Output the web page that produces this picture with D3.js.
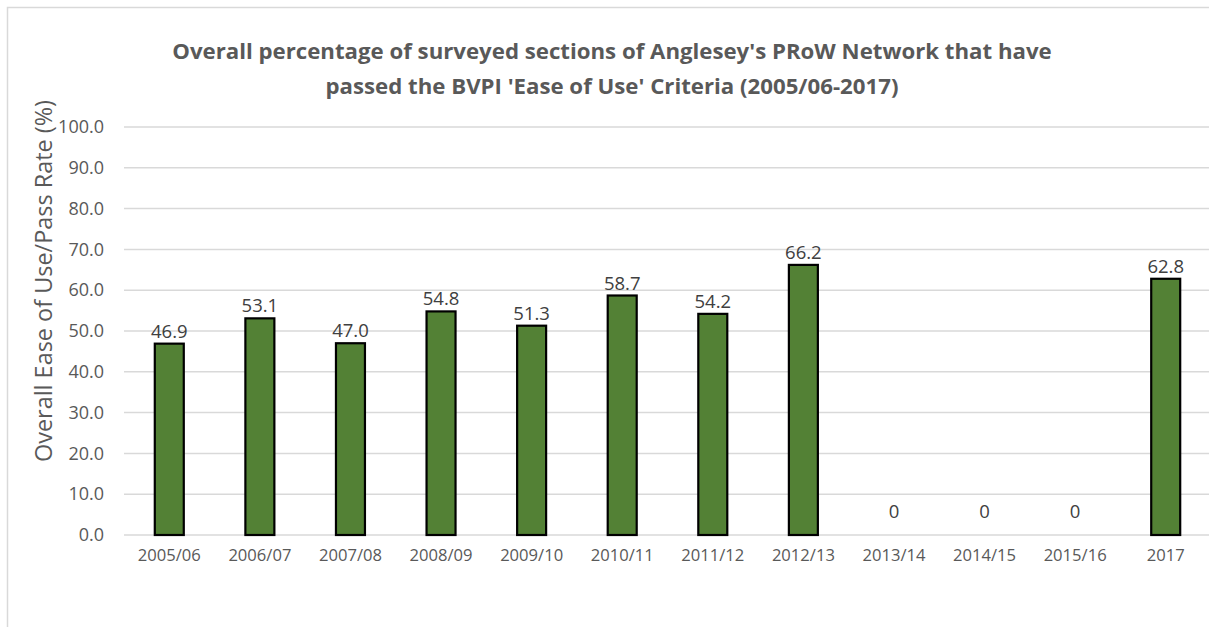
<!DOCTYPE html>
<html><head><meta charset="utf-8">
<script src="https://cdn.jsdelivr.net/npm/d3@7"></script>
<style>body{margin:0;background:#fff;}svg{display:block;}</style>
</head><body>
<svg id="chart" width="1209" height="627"></svg>
<script>
const categories = ["2005/06","2006/07","2007/08","2008/09","2009/10","2010/11","2011/12","2012/13","2013/14","2014/15","2015/16","2017"];
const values = [46.9, 53.1, 47.0, 54.8, 51.3, 58.7, 54.2, 66.2, 0, 0, 0, 62.8];
const yTicks = [0,10,20,30,40,50,60,70,80,90,100];
const titleLines = ["Overall percentage of surveyed sections of Anglesey's PRoW Network that have","passed the BVPI 'Ease of Use' Criteria (2005/06-2017)"];
const yTitle = "Overall Ease of Use/Pass Rate (%)";

const svg = d3.select("#chart");
const FONT = "'Open Sans', sans-serif";
const margin = {left:124, right:-2, top:127, bottom:92};
const W = 1209, H = 627;

function fit(sel, target){
  const w = sel.node().getComputedTextLength();
  const fs = parseFloat(sel.attr("font-size"));
  sel.attr("font-size", (fs*target/w).toFixed(2));
}

// outer border
svg.append("rect").attr("x",7.5).attr("y",7.5).attr("width",1300).attr("height",700)
  .attr("fill","none").attr("stroke","#d9d9d9").attr("stroke-width",1.5);

const x = d3.scaleBand().domain(categories).range([margin.left, W - margin.right]).paddingInner(0.68).paddingOuter(0.34);
const y = d3.scaleLinear().domain([0,100]).range([535,127]);

// gridlines
svg.append("g").selectAll("line").data(yTicks).join("line")
  .attr("x1", margin.left).attr("x2", W)
  .attr("y1", d=>y(d)).attr("y2", d=>y(d))
  .attr("stroke","#d9d9d9").attr("stroke-width",1.5);

// y axis labels
const yAxis = d3.axisLeft(y).tickValues(yTicks).tickFormat(d3.format(".1f")).tickSize(0).tickPadding(0);
const gy = svg.append("g").attr("transform","translate(104,0)").call(yAxis);
gy.select(".domain").remove();
gy.selectAll("text").attr("font-family",FONT).attr("font-size",18).attr("fill","#595959");

// x axis labels
const xAxis = d3.axisBottom(x).tickSize(0).tickPadding(0);
const gx = svg.append("g").attr("transform","translate(0,549)").call(xAxis);
gx.select(".domain").remove();
gx.selectAll("text").attr("font-family",FONT).attr("font-size",16.6).attr("fill","#595959").attr("dy","0.71em");

// bars
svg.append("g").selectAll("rect").data(values.map((v,i)=>({c:categories[i],v}))).join("rect")
  .filter(d=>d.v>0)
  .attr("x", d=>x(d.c)).attr("width", x.bandwidth())
  .attr("y", d=>y(d.v)).attr("height", d=>y(0)-y(d.v))
  .attr("fill","#538135").attr("stroke","#000").attr("stroke-width",2.2);

// data labels
svg.append("g").selectAll("text").data(values.map((v,i)=>({c:categories[i],v}))).join("text")
  .attr("x", d=>x(d.c)+x.bandwidth()/2)
  .attr("y", d=> d.v>0 ? y(d.v)-6 : y(0)-17)
  .attr("text-anchor","middle").attr("font-family",FONT).attr("font-size",18.5).attr("fill","#404040")
  .text(d=> d.v>0 ? d3.format(".1f")(d.v) : "0");

// title
const t1 = svg.append("text").attr("x",612).attr("y",59).attr("text-anchor","middle")
  .attr("font-family",FONT).attr("font-weight","bold").attr("font-size",20).attr("fill","#595959").text(titleLines[0]);
fit(t1, 880);
const fs = t1.attr("font-size");
svg.append("text").attr("x",612).attr("y",94).attr("text-anchor","middle")
  .attr("font-family",FONT).attr("font-weight","bold").attr("font-size",fs).attr("fill","#595959").text(titleLines[1]);

// y title
const yt = svg.append("text").attr("transform","translate(52,281) rotate(-90)").attr("text-anchor","middle")
  .attr("font-family",FONT).attr("font-size",18).attr("fill","#595959").text(yTitle);
fit(yt, 362);
</script>
</body></html>
